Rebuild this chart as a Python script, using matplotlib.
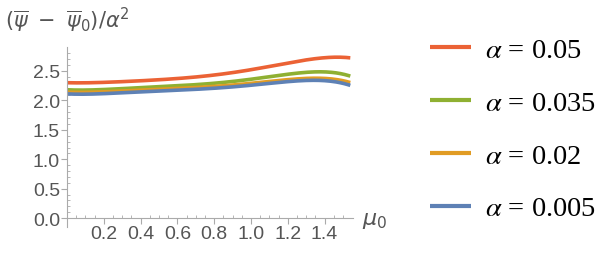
import matplotlib.pyplot as plt
import numpy as np

# values (mu0, then one list per alpha)
mu = [0.0, 0.2, 0.4, 0.6, 0.78, 1.0, 1.27, 1.36, 1.43, 1.54]
alphas = ["0.05", "0.035", "0.02", "0.005"]
y_005 = [2.30, 2.31, 2.33, 2.37, 2.43, 2.52, 2.67, 2.71, 2.74, 2.72]
y_0035 = [2.18, 2.19, 2.21, 2.25, 2.29, 2.36, 2.46, 2.49, 2.485, 2.41]
y_002 = [2.14, 2.15, 2.17, 2.20, 2.24, 2.29, 2.36, 2.38, 2.375, 2.30]
y_0005 = [2.11, 2.12, 2.14, 2.17, 2.21, 2.26, 2.32, 2.345, 2.34, 2.25]
series = [y_005, y_0035, y_002, y_0005]
colors = ["#EB6235", "#8FB032", "#E19C24", "#5E81B5"]

plt.rcParams['mathtext.fontset'] = 'dejavusans'
grey = "#555555"
axcol = "#aaaaaa"

fig = plt.figure(figsize=(6.06, 2.55), dpi=100)
ax = fig.add_axes([0.1106, 0.106, 0.472, 0.704])

# smooth curve through the read points
xs = np.linspace(0, 1.54, 200)
lines = []
for ys, c, a in zip(series, colors, alphas):
    coef = np.polyfit(mu, ys, 5)
    l, = ax.plot(xs, np.polyval(coef, xs), color=c, lw=2.6, solid_capstyle='butt',
                 label=r'$\alpha$ = ' + a)
    lines.append(l)

ax.set_xlim(0, 1.555)
ax.set_ylim(-0.15, 2.9)
ax.spines['bottom'].set_position(('data', 0))
ax.spines['top'].set_visible(False)
ax.spines['right'].set_visible(False)
for s in ['left', 'bottom']:
    ax.spines[s].set_color(axcol)
    ax.spines[s].set_linewidth(0.8)

ax.set_xticks([0.2, 0.4, 0.6, 0.8, 1.0, 1.2, 1.4])
ax.set_xticklabels(["0.2", "0.4", "0.6", "0.8", "1.0", "1.2", "1.4"])
ax.set_yticks([0, 0.5, 1.0, 1.5, 2.0, 2.5])
ax.set_yticklabels(["0.0", "0.5", "1.0", "1.5", "2.0", "2.5"])
ax.set_xticks(np.arange(0.05, 1.55, 0.05), minor=True)
ax.set_yticks(np.arange(0.1, 2.9, 0.1), minor=True)
ax.tick_params(which='major', direction='out', length=4, color=axcol,
               labelcolor=grey, labelsize=14, pad=1)
ax.tick_params(which='minor', direction='in', length=2, color=axcol)
for t in ax.get_xticklabels() + ax.get_yticklabels():
    t.set_family('Liberation Sans')

fig.text(0.008, 0.92, r'$(\overline{\psi}\ -\ \overline{\psi}_0)/\alpha^2$',
         color=grey, fontsize=15, va='center', ha='left')
fig.text(0.598, 0.135, r'$\mu_0$', color=grey, fontsize=16, va='center', ha='left')

plt.rcParams['mathtext.fontset'] = 'stix'
leg = fig.legend(handles=lines, loc='center left', bbox_to_anchor=(0.709, 0.49),
                 frameon=False, handlelength=1.45, handletextpad=0.5,
                 labelspacing=0.95, borderpad=0, borderaxespad=0,
                 prop={'family': 'Liberation Serif', 'size': 20.5})
for l in leg.get_lines():
    l.set_linewidth(3)

fig.savefig("out.png", dpi=100)
